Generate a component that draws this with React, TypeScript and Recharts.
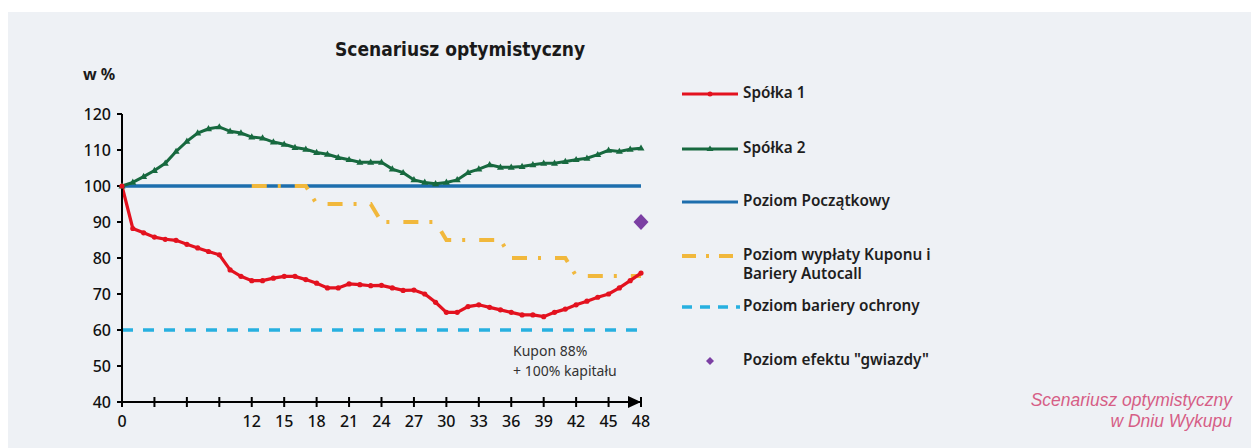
import React from "react";
import {
  ComposedChart,
  Line,
  XAxis,
  YAxis,
  ReferenceLine,
  ReferenceDot,
  Legend,
} from "recharts";

const months = [
  0, 1, 2, 3, 4, 5, 6, 7, 8, 9, 10, 11, 12, 13, 14, 15, 16, 17, 18, 19, 20, 21, 22, 23, 24,
  25, 26, 27, 28, 29, 30, 31, 32, 33, 34, 35, 36, 37, 38, 39, 40, 41, 42, 43, 44, 45, 46, 47, 48,
];
const spolka1 = [
  100, 88.2, 87, 85.8, 85.2, 84.9, 83.8, 82.8, 81.8, 80.9,
  76.7, 74.9, 73.7, 73.7, 74.4, 74.9, 74.9, 74, 73, 71.7,
  71.7, 72.8, 72.6, 72.3, 72.4, 71.7, 71, 71.1, 70, 67.7,
  64.9, 64.9, 66.5, 67, 66.3, 65.6, 64.9, 64.2, 64.2, 63.7,
  64.9, 65.8, 67, 68, 69.1, 70, 71.7, 73.7, 75.8,
];
const spolka2 = [
  100, 101, 102.6, 104.3, 106.3, 109.6, 112.4, 114.7, 115.9, 116.4,
  115.2, 114.7, 113.6, 113.3, 112.2, 111.6, 110.7, 110.2, 109.3, 108.8,
  107.9, 107.3, 106.6, 106.6, 106.6, 104.7, 103.7, 101.7, 101, 100.6,
  101, 101.7, 103.7, 104.7, 105.9, 105.2, 105.2, 105.4, 105.9, 106.3,
  106.3, 106.8, 107.3, 107.7, 108.7, 109.9, 109.6, 110.2, 110.5,
];
const kupon = [
  null, null, null, null, null, null, null, null, null, null, null, null,
  100, 100, 100, 100, 100, 100,
  95, 95, 95, 95, 95, 95,
  90, 90, 90, 90, 90, 90,
  85, 85, 85, 85, 85, 85,
  80, 80, 80, 80, 80, 80,
  75, 75, 75, 75, 75, 75, 75,
];
const poziomPoczatkowy = 100;
const poziomBariery = 60;
const gwiazdaMiesiac = 48;
const gwiazdaPoziom = 90;

const xTicks = [0, 3, 6, 9, 12, 15, 18, 21, 24, 27, 30, 33, 36, 39, 42, 45, 48];
const xLabels = [0, 12, 15, 18, 21, 24, 27, 30, 33, 36, 39, 42, 45, 48];
const yTicks = [40, 50, 60, 70, 80, 90, 100, 110, 120];

const legendItems = [
  { name: "Spółka 1", key: "s1" },
  { name: "Spółka 2", key: "s2" },
  { name: "Poziom Początkowy", key: "pp" },
  { name: "Poziom wypłaty Kuponu i\nBariery Autocall", key: "ku" },
  { name: "Poziom bariery ochrony", key: "bo" },
  { name: 'Poziom efektu "gwiazdy"', key: "gw" },
];

const RED = "#e3121f";
const GREEN = "#17693f";
const BLUE = "#1d6ead";
const YELLOW = "#f1b83c";
const LIGHTBLUE = "#27b0e0";
const PURPLE = "#7b3fa3";
const FONT = "'Noto Sans', sans-serif";

const data = months.map((m, i) => ({
  m,
  s1: spolka1[i],
  s2: spolka2[i],
  ku: kupon[i],
}));

const XTick = (props: any) => {
  const { x, y, payload } = props;
  const v = payload.value;
  return (
    <g>
      <line x1={x} x2={x} y1={y - 5} y2={y + 5} stroke="#000" strokeWidth={2} />
      {v === 48 && (
        <polygon points={`${x - 13},${y - 6} ${x},${y} ${x - 13},${y + 6}`} fill="#000" />
      )}
      {xLabels.includes(v) && (
        <text x={x} y={y + 25} textAnchor="middle" fontSize={16} fontWeight={500} fontFamily={FONT} fill="#111">
          {v}
        </text>
      )}
    </g>
  );
};

const RedDot = (props: any) => {
  const { cx, cy, index } = props;
  if (cx == null || cy == null) return <g key={index} />;
  return <circle key={index} cx={cx} cy={cy} r={2.6} fill={RED} />;
};

const GreenDot = (props: any) => {
  const { cx, cy, index } = props;
  if (cx == null || cy == null) return <g key={index} />;
  return (
    <polygon
      key={index}
      points={`${cx},${cy - 3.8} ${cx + 3.5},${cy + 2.4} ${cx - 3.5},${cy + 2.4}`}
      fill={GREEN}
    />
  );
};

const Diamond = (props: any) => {
  const { cx, cy } = props;
  return (
    <polygon
      points={`${cx},${cy - 8} ${cx + 7.5},${cy} ${cx},${cy + 8} ${cx - 7.5},${cy}`}
      fill={PURPLE}
    />
  );
};

const LegendIcon = ({ k }: { k: string }) => {
  return (
    <svg width={58} height={20} style={{ position: "absolute", left: 0, top: 0 }}>
      {k === "s1" && (
        <>
          <line x1={0} x2={56} y1={10} y2={10} stroke={RED} strokeWidth={3} />
          <circle cx={28} cy={10} r={2.5} fill={RED} />
        </>
      )}
      {k === "s2" && (
        <>
          <line x1={0} x2={56} y1={10} y2={10} stroke={GREEN} strokeWidth={3} />
          <polygon points="28,6.5 31.5,12 24.5,12" fill={GREEN} />
        </>
      )}
      {k === "pp" && <line x1={0} x2={56} y1={10} y2={10} stroke={BLUE} strokeWidth={3} />}
      {k === "ku" && (
        <line x1={0} x2={58} y1={10} y2={10} stroke={YELLOW} strokeWidth={4} strokeDasharray="14 10 3 10" />
      )}
      {k === "bo" && (
        <line x1={0} x2={58} y1={10} y2={10} stroke={LIGHTBLUE} strokeWidth={3.5} strokeDasharray="10 8" />
      )}
      {k === "gw" && <polygon points="28,6 32,10 28,14 24,10" fill={PURPLE} />}
    </svg>
  );
};

const legendTops = [14, 69, 122, 176, 227, 281];

const renderLegend = () => (
  <div style={{ position: "relative", width: 320, height: 300 }}>
    {legendItems.map((it, i) => (
      <div key={it.key} style={{ position: "absolute", left: 0, top: legendTops[i], width: 320 }}>
        <LegendIcon k={it.key} />
        <div
          style={{
            position: "absolute",
            left: 61,
            top: -1,
            whiteSpace: "pre",
            fontFamily: FONT,
            fontSize: 15.3,
            fontWeight: 600,
            lineHeight: "19px",
            color: "#1e1e1e",
          }}
        >
          {it.name}
        </div>
      </div>
    ))}
  </div>
);

export default function App() {
  return (
    <div style={{ position: "relative", width: 1251, height: 448, background: "#fff", overflow: "hidden" }}>
      <style>{`body{margin:0;overflow:hidden}`}</style>
      <div
        style={{
          position: "absolute",
          left: 8,
          top: 12,
          width: 1243,
          height: 436,
          background: "#eef1f5",
        }}
      >
        <div
          style={{
            position: "absolute",
            left: 0,
            width: 904,
            top: 26,
            textAlign: "center",
            fontFamily: "'DejaVu Sans Condensed', sans-serif",
            fontWeight: 700,
            fontSize: 19,
            color: "#1a1a1a",
          }}
        >
          Scenariusz optymistyczny
        </div>
        <div
          style={{
            position: "absolute",
            left: 75,
            top: 51,
            fontFamily: FONT,
            fontWeight: 700,
            fontSize: 16,
            color: "#1a1a1a",
          }}
        >
          w %
        </div>
        <ComposedChart
          width={1243}
          height={436}
          data={data}
          margin={{ top: 102, right: 610, left: 64, bottom: 16 }}
        >
          <XAxis
            dataKey="m"
            type="number"
            domain={[0, 48]}
            ticks={xTicks}
            interval={0}
            tickSize={0}
            tickMargin={0}
            tickLine={false}
            tick={<XTick />}
            axisLine={{ stroke: "#000", strokeWidth: 2 }}
            height={30}
          />
          <YAxis
            type="number"
            domain={[40, 120]}
            ticks={yTicks}
            interval={0}
            width={50}
            tickSize={5}
            tickMargin={6}
            axisLine={{ stroke: "#000", strokeWidth: 2 }}
            tickLine={{ stroke: "#000", strokeWidth: 2 }}
            tick={{ fontSize: 16, fontWeight: 500, fontFamily: FONT, fill: "#111" }}
          />
          <Legend
            layout="vertical"
            align="center"
            verticalAlign="middle"
            content={renderLegend}
            wrapperStyle={{ left: 674, top: 58, width: 320 }}
          />
          <ReferenceLine y={poziomBariery} stroke={LIGHTBLUE} strokeWidth={3.5} strokeDasharray="11 10" />
          <ReferenceLine y={poziomPoczatkowy} stroke={BLUE} strokeWidth={3.5} />
          <Line
            dataKey="ku"
            type="linear"
            stroke={YELLOW}
            strokeWidth={4}
            strokeDasharray="15 11 3 14"
            dot={false}
            isAnimationActive={false}
          />
          <Line
            dataKey="s2"
            type="linear"
            stroke={GREEN}
            strokeWidth={3}
            dot={<GreenDot />}
            isAnimationActive={false}
          />
          <Line
            dataKey="s1"
            type="linear"
            stroke={RED}
            strokeWidth={3.2}
            dot={<RedDot />}
            isAnimationActive={false}
          />
          <ReferenceDot x={gwiazdaMiesiac} y={gwiazdaPoziom} shape={<Diamond />} />
        </ComposedChart>
        <div
          style={{
            position: "absolute",
            left: 505,
            top: 329,
            fontFamily: FONT,
            fontSize: 14,
            lineHeight: "20px",
            color: "#333",
          }}
        >
          Kupon 88%
          <br />+ 100% kapitału
        </div>
        <div
          style={{
            position: "absolute",
            right: 19,
            top: 378,
            textAlign: "right",
            fontFamily: "'Liberation Sans', sans-serif",
            fontStyle: "italic",
            fontWeight: 400,
            fontSize: 17.5,
            lineHeight: "21px",
            color: "#d65e86",
          }}
        >
          Scenariusz optymistyczny
          <br />
          w Dniu Wykupu
        </div>
      </div>
    </div>
  );
}
